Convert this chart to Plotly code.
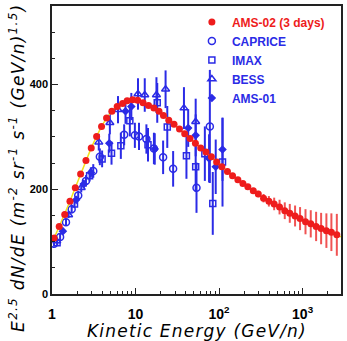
import plotly.graph_objects as go

RED = "#ee1c1c"
RED_ERR = "rgba(236, 40, 40, 0.8)"
BLUE = "#2b2be6"
YELLOW = "#f2e21b"
FRAME = "#222222"

# AMS-02 (3 days) projected points
ams02_e = [1.06, 1.22, 1.42, 1.64, 1.90, 2.20, 2.55, 2.95, 3.42, 3.92,
           4.50, 5.21, 6.03, 7.00, 7.94, 9.20, 10.6, 12.3, 14.3, 16.6,
           19.1, 21.6, 25.0, 28.9, 33.6, 38.8, 44.9, 52.1, 60.3, 69.8,
           80.9, 93.5, 108, 126, 145, 168, 193, 221, 257, 295,
           341, 395, 457, 530, 612, 703, 813, 933, 1084, 1253,
           1452, 1667, 1928, 2213, 2570]
ams02_flux = [107, 129, 152, 177, 203, 229, 255, 279, 301, 320,
              336, 349, 358, 364, 369, 371, 370, 365, 360, 355,
              349, 341, 332, 324, 315, 306, 297, 288, 279, 271,
              262, 252, 243, 234, 226, 218, 211, 205, 197, 191,
              183, 177, 172, 166, 159, 154, 149, 144, 138, 134,
              129, 125, 121, 118, 113]
ams02_err = [1] * 30 + [2, 2, 2, 3, 3, 3, 4, 4,
                        5, 6, 8, 10, 12, 14, 16, 18, 20, 22, 24, 26,
                        28, 30, 33, 36, 40]

# model curve under the AMS-02 points
model_e = [1.0] + ams02_e + [2900]
model_flux = [103] + ams02_flux + [109]

# CAPRICE
caprice_e = [1.06, 1.25, 1.47, 1.72, 2.06, 2.55, 3.12, 3.74, 7.31, 9.82,
             11.0, 13.5, 16.6, 21.4, 28.2, 53.7, 77.6]
caprice_flux = [96, 109, 137, 162, 188, 216, 235, 262, 304, 303,
                301, 296, 278, 261, 239, 203, 320]
caprice_err = [5, 6, 7, 8, 9, 11, 13, 16, 20, 24,
               26, 28, 30, 32, 34, 48, 108]

# IMAX
imax_e = [1.15, 1.86, 2.82, 3.98, 5.16, 6.67, 8.55, 14.1, 18.2, 24.0,
          40.7, 52.5, 67.6, 84.1, 110]
imax_flux = [98, 172, 226, 258, 269, 283, 331, 285, 365, 319,
             264, 243, 268, 173, 252]
imax_err = [5, 8, 11, 16, 22, 25, 30, 32, 38, 40,
            44, 48, 52, 60, 85]

# BESS
bess_e = [1.14, 1.58, 2.24, 3.63, 4.93, 6.17, 10.7, 12.9, 17.8, 22.9,
          38.0, 52.5]
bess_flux = [101, 151, 203, 290, 327, 352, 382, 380, 380, 391,
             355, 329]
bess_err = [4, 6, 9, 16, 22, 26, 30, 32, 34, 36,
            40, 44]

# AMS-01
ams01_e = [1.35, 1.95, 2.40, 2.92, 4.85, 7.59, 8.91, 17.0, 42.7, 52.5,
           75.9, 91.2, 110]
ams01_flux = [120, 180, 210, 232, 288, 349, 358, 277, 317, 303,
              259, 243, 276]
ams01_err = [5, 7, 8, 10, 18, 24, 26, 30, 36, 40,
             46, 52, 60]

fig = go.Figure()


def add_blue(name, x, y, err, symbol, size):
    fig.add_trace(go.Scatter(
        x=x, y=y, name=f"<b><span style='color:{BLUE}'>{name}</span></b>",
        mode="markers",
        marker=dict(symbol=symbol, size=size, color=BLUE,
                    line=dict(color=BLUE, width=1.5)),
        error_y=dict(type="data", array=err, color=BLUE, thickness=2, width=0),
    ))


add_blue("CAPRICE", caprice_e, caprice_flux, caprice_err, "circle-open", 7)
add_blue("IMAX", imax_e, imax_flux, imax_err, "square-open", 6)
add_blue("BESS", bess_e, bess_flux, bess_err, "triangle-up-open", 7)
add_blue("AMS-01", ams01_e, ams01_flux, ams01_err, "diamond", 5)

fig.add_trace(go.Scatter(
    x=model_e, y=model_flux, mode="lines", showlegend=False,
    line=dict(color=YELLOW, width=1.5), hoverinfo="skip",
))
fig.add_trace(go.Scatter(
    x=ams02_e, y=ams02_flux, mode="markers", legendrank=1,
    name=f"<b><span style='color:{RED}'>AMS-02 (3 days)</span></b>",
    marker=dict(symbol="circle", size=7, color=RED),
    error_y=dict(type="data", array=ams02_err, color=RED_ERR, thickness=2, width=0),
))

ytitle = ("<span style='letter-spacing:1.3px'><i>E<sup>2.5</sup> dN/dE (m<sup>-2</sup> "
          "sr<sup>-1</sup> s<sup>-1</sup> (GeV/n)<sup>1.5</sup>)</i></span>")
xtitle = "<span style='letter-spacing:1.2px'><i>Kinetic Energy (GeV/n)</i></span>"

fig.update_layout(
    width=347, height=341,
    margin=dict(l=52, r=5, t=4, b=47),
    paper_bgcolor="white", plot_bgcolor="white",
    legend=dict(x=0.484, y=0.995, xanchor="left", yanchor="top",
                bgcolor="rgba(0,0,0,0)", itemwidth=30, tracegroupgap=0,
                font=dict(family="Liberation Sans", size=12)),
    annotations=[
        dict(text=ytitle, textangle=-90, xref="paper", yref="paper",
             x=-0.121, y=0.438, xanchor="center", yanchor="middle", showarrow=False,
             font=dict(family="DejaVu Sans", size=17, color="black")),
        dict(text=xtitle, xref="paper", yref="paper", x=0.5, y=-0.128,
             xanchor="center", yanchor="middle", showarrow=False,
             font=dict(family="DejaVu Sans", size=17, color="black")),
    ],
)

fig.update_xaxes(
    type="log", range=[0, 3.46],
    tickvals=[1, 10, 100, 1000], ticktext=["1", "10", "10<sup>2</sup>", "10<sup>3</sup>"],
    ticks="inside", ticklen=6, tickcolor=FRAME, ticklabelstandoff=6,
    showline=True, linecolor=FRAME, linewidth=1.5, mirror=True,
    showgrid=False, zeroline=False,
    tickfont=dict(family="Liberation Sans", size=14, color="black", weight="bold"),
    minor=dict(ticks="inside", ticklen=3, dtick="D1", tickcolor=FRAME, showgrid=False),
)
fig.update_yaxes(
    range=[0, 550], tickvals=[0, 200, 400],
    ticks="inside", ticklen=6, tickcolor=FRAME,
    showline=True, linecolor=FRAME, linewidth=1.5, mirror=True,
    showgrid=False, zeroline=False,
    tickfont=dict(family="Liberation Sans", size=11, color="black", weight="bold"),
    minor=dict(ticks="inside", ticklen=3, dtick=50, tickcolor=FRAME, showgrid=False),
)

fig.write_html("out.html", config={"displayModeBar": False},
               post_script="document.body.style.margin='0px';")
